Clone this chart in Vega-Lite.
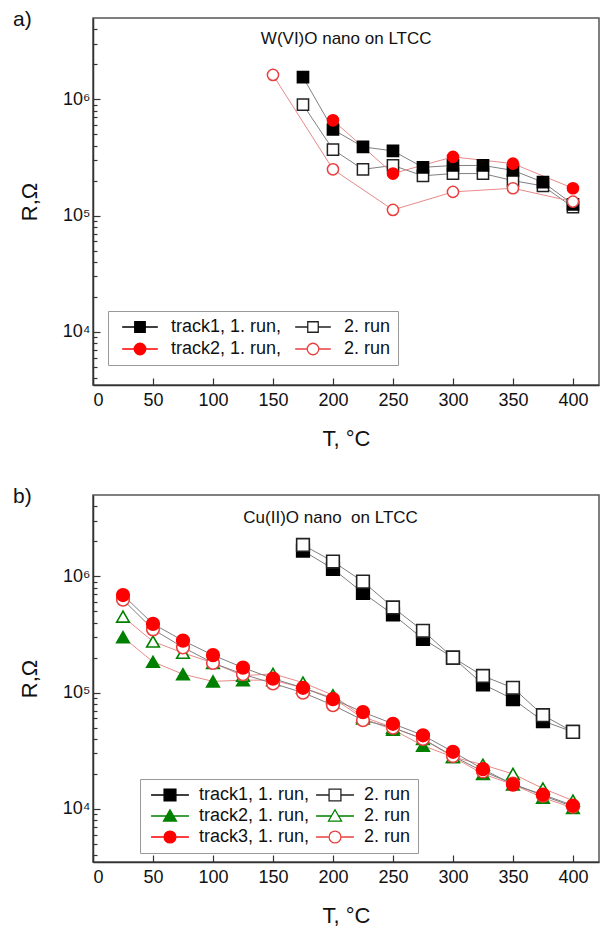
{
  "$schema": "https://vega.github.io/schema/vega-lite/v6.json",
  "background": "white",
  "padding": {"left": 12, "top": 8, "right": 3, "bottom": 3},
  "spacing": 35,
  "config": {
    "font": "Liberation Sans",
    "view": {"stroke": "#555555", "strokeWidth": 1.5},
    "axis": {
      "grid": false,
      "domainColor": "#333333",
      "domainWidth": 1.5,
      "tickColor": "#333333",
      "tickWidth": 1.2,
      "labelFont": "Liberation Sans",
      "labelFontSize": 18,
      "labelColor": "#111111",
      "titleFont": "Liberation Sans",
      "titleFontSize": 22,
      "titleFontWeight": "normal",
      "titleColor": "#111111"
    },
    "legend": {"labelFont": "Liberation Sans", "labelColor": "#111111"},
    "title": {"font": "Liberation Sans", "fontWeight": "normal", "fontSize": 21, "color": "#111111"}
  },
  "datasets": {
    "a": [
      {"series": "a2", "T": 175, "R": 900000}, {"series": "a2", "T": 200, "R": 370000}, {"series": "a2", "T": 225, "R": 250000}, {"series": "a2", "T": 250, "R": 270000}, {"series": "a2", "T": 275, "R": 220000}, {"series": "a2", "T": 300, "R": 230000}, {"series": "a2", "T": 325, "R": 230000}, {"series": "a2", "T": 350, "R": 200000}, {"series": "a2", "T": 375, "R": 180000}, {"series": "a2", "T": 400, "R": 118000},
      {"series": "a1", "T": 175, "R": 1550000}, {"series": "a1", "T": 200, "R": 550000}, {"series": "a1", "T": 225, "R": 390000}, {"series": "a1", "T": 250, "R": 360000}, {"series": "a1", "T": 275, "R": 260000}, {"series": "a1", "T": 300, "R": 270000}, {"series": "a1", "T": 325, "R": 270000}, {"series": "a1", "T": 350, "R": 245000}, {"series": "a1", "T": 375, "R": 194000}, {"series": "a1", "T": 400, "R": 125000},
      {"series": "a4", "T": 150, "R": 1620000}, {"series": "a4", "T": 200, "R": 250000}, {"series": "a4", "T": 250, "R": 112000}, {"series": "a4", "T": 300, "R": 160000}, {"series": "a4", "T": 350, "R": 172000}, {"series": "a4", "T": 400, "R": 132000},
      {"series": "a3", "T": 200, "R": 660000}, {"series": "a3", "T": 250, "R": 230000}, {"series": "a3", "T": 300, "R": 320000}, {"series": "a3", "T": 350, "R": 280000}, {"series": "a3", "T": 400, "R": 172000}
    ],
    "b": [
      {"series": "b1", "T": 175, "R": 1660000}, {"series": "b1", "T": 200, "R": 1160000}, {"series": "b1", "T": 225, "R": 720000}, {"series": "b1", "T": 250, "R": 470000}, {"series": "b1", "T": 275, "R": 290000}, {"series": "b1", "T": 300, "R": 200000}, {"series": "b1", "T": 325, "R": 118000}, {"series": "b1", "T": 350, "R": 88000}, {"series": "b1", "T": 375, "R": 57000}, {"series": "b1", "T": 400, "R": 46000},
      {"series": "b2", "T": 175, "R": 1860000}, {"series": "b2", "T": 200, "R": 1340000}, {"series": "b2", "T": 225, "R": 900000}, {"series": "b2", "T": 250, "R": 540000}, {"series": "b2", "T": 275, "R": 340000}, {"series": "b2", "T": 300, "R": 200000}, {"series": "b2", "T": 325, "R": 139000}, {"series": "b2", "T": 350, "R": 110000}, {"series": "b2", "T": 375, "R": 64000}, {"series": "b2", "T": 400, "R": 46000},
      {"series": "b3", "T": 25, "R": 300000}, {"series": "b3", "T": 50, "R": 184000}, {"series": "b3", "T": 75, "R": 144000}, {"series": "b3", "T": 100, "R": 125000}, {"series": "b3", "T": 125, "R": 128000}, {"series": "b3", "T": 150, "R": 128000}, {"series": "b3", "T": 175, "R": 110000}, {"series": "b3", "T": 200, "R": 90000}, {"series": "b3", "T": 225, "R": 60000}, {"series": "b3", "T": 250, "R": 48000}, {"series": "b3", "T": 275, "R": 35000}, {"series": "b3", "T": 300, "R": 28000}, {"series": "b3", "T": 325, "R": 20000}, {"series": "b3", "T": 350, "R": 16200}, {"series": "b3", "T": 375, "R": 12500}, {"series": "b3", "T": 400, "R": 10200},
      {"series": "b4", "T": 25, "R": 450000}, {"series": "b4", "T": 50, "R": 275000}, {"series": "b4", "T": 75, "R": 220000}, {"series": "b4", "T": 100, "R": 180000}, {"series": "b4", "T": 125, "R": 140000}, {"series": "b4", "T": 150, "R": 145000}, {"series": "b4", "T": 175, "R": 122000}, {"series": "b4", "T": 200, "R": 95000}, {"series": "b4", "T": 225, "R": 62000}, {"series": "b4", "T": 250, "R": 50000}, {"series": "b4", "T": 275, "R": 40000}, {"series": "b4", "T": 300, "R": 28000}, {"series": "b4", "T": 325, "R": 24000}, {"series": "b4", "T": 350, "R": 20000}, {"series": "b4", "T": 375, "R": 15000}, {"series": "b4", "T": 400, "R": 11800},
      {"series": "b6", "T": 25, "R": 630000}, {"series": "b6", "T": 50, "R": 350000}, {"series": "b6", "T": 75, "R": 245000}, {"series": "b6", "T": 100, "R": 180000}, {"series": "b6", "T": 125, "R": 144000}, {"series": "b6", "T": 150, "R": 120000}, {"series": "b6", "T": 175, "R": 100000}, {"series": "b6", "T": 200, "R": 78000}, {"series": "b6", "T": 225, "R": 58000}, {"series": "b6", "T": 250, "R": 50000}, {"series": "b6", "T": 275, "R": 40000}, {"series": "b6", "T": 300, "R": 28500}, {"series": "b6", "T": 325, "R": 21000}, {"series": "b6", "T": 350, "R": 16500}, {"series": "b6", "T": 375, "R": 13000}, {"series": "b6", "T": 400, "R": 10500},
      {"series": "b5", "T": 25, "R": 690000}, {"series": "b5", "T": 50, "R": 390000}, {"series": "b5", "T": 75, "R": 280000}, {"series": "b5", "T": 100, "R": 210000}, {"series": "b5", "T": 125, "R": 164000}, {"series": "b5", "T": 150, "R": 132000}, {"series": "b5", "T": 175, "R": 110000}, {"series": "b5", "T": 200, "R": 88000}, {"series": "b5", "T": 225, "R": 68000}, {"series": "b5", "T": 250, "R": 54000}, {"series": "b5", "T": 275, "R": 43000}, {"series": "b5", "T": 300, "R": 31000}, {"series": "b5", "T": 325, "R": 22000}, {"series": "b5", "T": 350, "R": 16200}, {"series": "b5", "T": 375, "R": 13300}, {"series": "b5", "T": 400, "R": 10700}
    ]
  },
  "vconcat": [
    {
      "width": 506,
      "height": 367,
      "title": {"text": "a)", "anchor": "start", "frame": "group", "dx": -80, "offset": -12},
      "resolve": {"scale": {"color": "independent", "fill": "independent", "shape": "independent"}},
      "layer": [
        {
          "data": {"name": "a"},
          "mark": {"type": "line", "strokeWidth": 1},
          "encoding": {
            "x": {"field": "T", "type": "quantitative", "scale": {"domain": [0, 421.7], "nice": false, "zero": false},
              "axis": {"title": "T, °C", "values": [0,25,50,75,100,125,150,175,200,225,250,275,300,325,350,375,400], "labelExpr": "datum.value % 50 == 0 ? datum.label : ''", "tickSize": {"condition": {"test": "datum.value % 50 == 0", "value": -7}, "value": -4}, "labelPadding": 13, "titlePadding": 19}},
            "y": {"field": "R", "type": "quantitative", "scale": {"type": "log", "domain": [3500, 5000000], "nice": false},
              "axis": {"title": "R,Ω", "values": [4000,5000,6000,7000,8000,9000,10000,20000,30000,40000,50000,60000,70000,80000,90000,100000,200000,300000,400000,500000,600000,700000,800000,900000,1000000,2000000,3000000,4000000], "labelExpr": "datum.value == 10000 ? '10⁴' : datum.value == 100000 ? '10⁵' : datum.value == 1000000 ? '10⁶' : ''", "tickSize": {"condition": {"test": "datum.value == 10000 || datum.value == 100000 || datum.value == 1000000", "value": -7}, "value": -4}, "labelPadding": 10, "titlePadding": 21}},
            "stroke": {"field": "series", "type": "nominal", "scale": {"domain": ["a1","a2","a3","a4"], "range": ["#808080","#808080","#e88a8a","#e88a8a"]}, "legend": null}
          }
        },
        {
          "data": {"name": "a"},
          "mark": {"type": "point", "filled": false, "opacity": 1, "fillOpacity": 1, "strokeWidth": 1.5, "size": 125},
          "encoding": {
            "x": {"field": "T", "type": "quantitative"},
            "y": {"field": "R", "type": "quantitative"},
            "color": {"field": "series", "type": "nominal", "scale": {"domain": ["a1","a2","a3","a4"], "range": ["#000000","#222222","#ff0000","#e8403f"]}, "legend": null},
            "fill": {"field": "series", "type": "nominal", "scale": {"domain": ["a1","a2","a3","a4"], "range": ["#000000","#ffffff","#ff0000","#ffffff"]}, "legend": null},
            "shape": {"field": "series", "type": "nominal", "scale": {"domain": ["a1","a2","a3","a4"], "range": ["square","square","circle","circle"]}, "legend": null}
          }
        },
        {
          "data": {"values": []},
          "mark": {"type": "point", "filled": false, "opacity": 1, "fillOpacity": 1, "strokeWidth": 1.3},
          "encoding": {
            "shape": {"field": "series", "type": "nominal",
              "scale": {"domain": ["a1","a2","a3","a4"], "range": [
                "M-3.4,0H-1M1,0H3.4M-1,-1H1V1H-1Z",
                "M-3.4,0H-1M1,0H3.4M-1,-1H1V1H-1Z",
                "M-3.4,0H-1.1M1.1,0H3.4M1.1,0A1.1,1.1,0,1,1,-1.1,0A1.1,1.1,0,1,1,1.1,0Z",
                "M-3.4,0H-1.1M1.1,0H3.4M1.1,0A1.1,1.1,0,1,1,-1.1,0A1.1,1.1,0,1,1,1.1,0Z"]},
              "legend": {"title": null, "orient": "none", "direction": "horizontal", "legendX": 15, "legendY": 293, "columns": 2, "labelFontSize": 18,
                "labelExpr": "datum.label == 'a1' ? 'track1, 1. run,' : datum.label == 'a2' ? '2. run' : datum.label == 'a3' ? 'track2, 1. run,' : ' 2. run'",
                "symbolSize": 110, "symbolStrokeWidth": 1.3, "symbolOffset": 16, "labelOffset": 22, "columnPadding": 6, "rowPadding": 4, "padding": 7, "strokeColor": "#999999", "fillColor": "#ffffff"}},
            "color": {"field": "series", "type": "nominal", "scale": {"domain": ["a1","a2","a3","a4"], "range": ["#000000","#222222","#ff0000","#e8403f"]}},
            "fill": {"field": "series", "type": "nominal", "scale": {"domain": ["a1","a2","a3","a4"], "range": ["#000000","#ffffff","#ff0000","#ffffff"]}}
          }
        },
        {
          "data": {"values": [{"label": "W(VI)O nano on LTCC"}]},
          "mark": {"type": "text", "fontSize": 17, "font": "Liberation Sans", "color": "#111111", "baseline": "middle"},
          "encoding": {"x": {"datum": 211, "type": "quantitative"}, "y": {"datum": 3270000, "type": "quantitative"}, "text": {"field": "label"}}
        }
      ]
    },
    {
      "width": 506,
      "height": 367,
      "title": {"text": "b)", "anchor": "start", "frame": "group", "dx": -80, "offset": -12},
      "resolve": {"scale": {"color": "independent", "fill": "independent", "shape": "independent"}},
      "layer": [
        {
          "data": {"name": "b"},
          "mark": {"type": "line", "strokeWidth": 1},
          "encoding": {
            "x": {"field": "T", "type": "quantitative", "scale": {"domain": [0, 421.7], "nice": false, "zero": false},
              "axis": {"title": "T, °C", "values": [0,25,50,75,100,125,150,175,200,225,250,275,300,325,350,375,400], "labelExpr": "datum.value % 50 == 0 ? datum.label : ''", "tickSize": {"condition": {"test": "datum.value % 50 == 0", "value": -7}, "value": -4}, "labelPadding": 13, "titlePadding": 19}},
            "y": {"field": "R", "type": "quantitative", "scale": {"type": "log", "domain": [3500, 5000000], "nice": false},
              "axis": {"title": "R,Ω", "values": [4000,5000,6000,7000,8000,9000,10000,20000,30000,40000,50000,60000,70000,80000,90000,100000,200000,300000,400000,500000,600000,700000,800000,900000,1000000,2000000,3000000,4000000], "labelExpr": "datum.value == 10000 ? '10⁴' : datum.value == 100000 ? '10⁵' : datum.value == 1000000 ? '10⁶' : ''", "tickSize": {"condition": {"test": "datum.value == 10000 || datum.value == 100000 || datum.value == 1000000", "value": -7}, "value": -4}, "labelPadding": 10, "titlePadding": 21}},
            "stroke": {"field": "series", "type": "nominal", "scale": {"domain": ["b1","b2","b3","b4","b5","b6"], "range": ["#808080","#808080","#7a8a7a","#7a8a7a","#e88a8a","#e88a8a"]}, "legend": null}
          }
        },
        {
          "data": {"name": "b"},
          "mark": {"type": "point", "filled": false, "opacity": 1, "fillOpacity": 1, "strokeWidth": 1.6, "size": 160},
          "encoding": {
            "x": {"field": "T", "type": "quantitative"},
            "y": {"field": "R", "type": "quantitative"},
            "color": {"field": "series", "type": "nominal", "scale": {"domain": ["b1","b2","b3","b4","b5","b6"], "range": ["#000000","#222222","#008000","#008000","#ff0000","#e8403f"]}, "legend": null},
            "fill": {"field": "series", "type": "nominal", "scale": {"domain": ["b1","b2","b3","b4","b5","b6"], "range": ["#000000","#ffffff","#008000","#ffffff","#ff0000","#ffffff"]}, "legend": null},
            "shape": {"field": "series", "type": "nominal", "scale": {"domain": ["b1","b2","b3","b4","b5","b6"], "range": ["square","square","triangle-up","triangle-up","circle","circle"]}, "legend": null}
          }
        },
        {
          "data": {"values": []},
          "mark": {"type": "point", "filled": false, "opacity": 1, "fillOpacity": 1, "strokeWidth": 1.3},
          "encoding": {
            "shape": {"field": "series", "type": "nominal",
              "scale": {"domain": ["b1","b2","b3","b4","b5","b6"], "range": [
                "M-3.2,0H-1M1,0H3.2M-1,-1H1V1H-1Z",
                "M-3.2,0H-1M1,0H3.2M-1,-1H1V1H-1Z",
                "M-3.2,0H-0.5M0.5,0H3.2M0,-1.05L1.1,0.85L-1.1,0.85Z",
                "M-3.2,0H-0.5M0.5,0H3.2M0,-1.05L1.1,0.85L-1.1,0.85Z",
                "M-3.2,0H-1M1,0H3.2M1,0A1,1,0,1,1,-1,0A1,1,0,1,1,1,0Z",
                "M-3.2,0H-1M1,0H3.2M1,0A1,1,0,1,1,-1,0A1,1,0,1,1,1,0Z"]},
              "legend": {"title": null, "orient": "none", "direction": "horizontal", "legendX": 47, "legendY": 284, "columns": 2, "labelFontSize": 18,
                "labelExpr": "datum.label == 'b1' ? 'track1, 1. run,' : datum.label == 'b2' ? '2. run' : datum.label == 'b3' ? 'track2, 1. run,' : datum.label == 'b4' ? '2. run ' : datum.label == 'b5' ? 'track3, 1. run,' : '2. run  '",
                "symbolSize": 140, "symbolStrokeWidth": 1.3, "symbolOffset": 14, "labelOffset": 20, "columnPadding": 2, "rowPadding": 3, "padding": 7, "strokeColor": "#999999", "fillColor": "#ffffff"}},
            "color": {"field": "series", "type": "nominal", "scale": {"domain": ["b1","b2","b3","b4","b5","b6"], "range": ["#000000","#222222","#008000","#008000","#ff0000","#e8403f"]}},
            "fill": {"field": "series", "type": "nominal", "scale": {"domain": ["b1","b2","b3","b4","b5","b6"], "range": ["#000000","#ffffff","#008000","#ffffff","#ff0000","#ffffff"]}}
          }
        },
        {
          "data": {"values": [{"label": "Cu(II)O nano\u00a0 on LTCC"}]},
          "mark": {"type": "text", "fontSize": 17, "font": "Liberation Sans", "color": "#111111", "baseline": "middle"},
          "encoding": {"x": {"datum": 198, "type": "quantitative"}, "y": {"datum": 3200000, "type": "quantitative"}, "text": {"field": "label"}}
        }
      ]
    }
  ]
}
